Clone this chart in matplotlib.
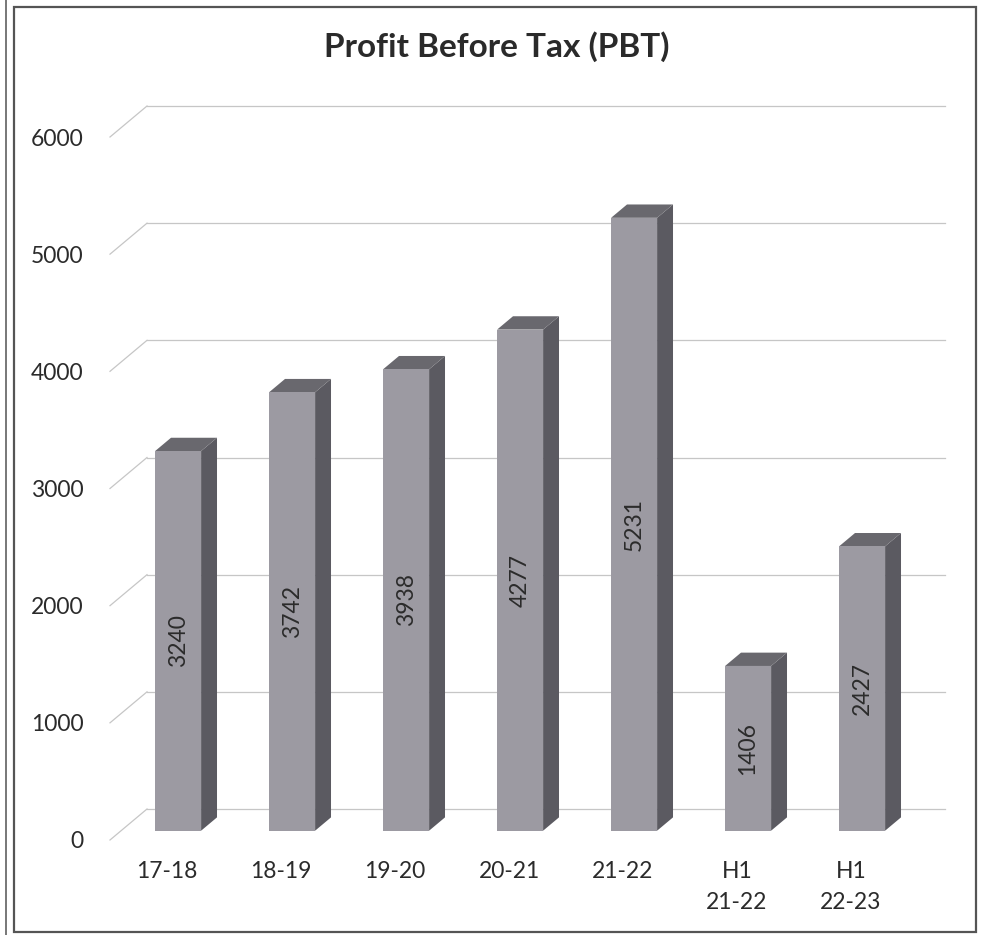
import matplotlib
matplotlib.use("Agg")
import matplotlib.pyplot as plt
from matplotlib.patches import Polygon, Rectangle
from matplotlib.lines import Line2D

plt.rcParams['font.family'] = ['Lato', 'DejaVu Sans']

categories = ["17-18", "18-19", "19-20", "20-21", "21-22", "H1\n21-22", "H1\n22-23"]
pbt_values = [3240, 3742, 3938, 4277, 5231, 1406, 2427]
y_ticks = [0, 1000, 2000, 3000, 4000, 5000, 6000]
title = "Profit Before Tax (PBT)"

W, H = 982, 935
fig = plt.figure(figsize=(W / 100, H / 100), dpi=100)
fig.patch.set_facecolor("white")

# front plane of the 3-D box, in pixels
left_px, right_px = 110, 908
bottom_px, top_px = 840, 137
ax = fig.add_axes([left_px / W, (H - bottom_px) / H,
                   (right_px - left_px) / W, (bottom_px - top_px) / H])
n = len(categories)
ax.set_xlim(-0.5, n - 0.5)
ax.set_ylim(0, 6000)
ax.set_facecolor("none")
for s in ax.spines.values():
    s.set_visible(False)

px_x = (right_px - left_px) / n          # pixels per category unit
px_y = (bottom_px - top_px) / 6000.0     # pixels per value unit
def dx(px):
    return px / px_x
def dy(px):
    return px / px_y

# full depth of the box (oblique projection)
DX, DY = dx(37), dy(31)

grid_c = "#c6c6c6"
for v in y_ticks:
    ax.add_line(Line2D([-0.5, -0.5 + DX], [v, v + DY], color=grid_c, lw=0.9, clip_on=False))
    ax.add_line(Line2D([-0.5 + DX, n - 0.5 + DX], [v + DY, v + DY], color=grid_c, lw=0.9,
                       clip_on=False, zorder=0.5))

# bars
f = 0.30          # depth of the front face
t = 0.43          # depth thickness of the bars
bw = dx(46)
front_c, side_c, top_c = "#9c9aa2", "#5b5a61", "#69686e"
xs = list(range(n))
x_front = [x + f * DX for x in xs]
b0 = f * DY
bars = ax.bar(x_front, pbt_values, width=bw, bottom=b0, color=front_c,
              edgecolor="none", zorder=3, clip_on=False)
for xf, v in zip(x_front, pbt_values):
    xl, xr = xf - bw / 2, xf + bw / 2
    top = b0 + v
    ax.add_patch(Polygon([(xr, b0), (xr + t * DX, b0 + t * DY), (xr + t * DX, top + t * DY), (xr, top)],
                         closed=True, facecolor=side_c, edgecolor="none", zorder=2.9, clip_on=False))
    ax.add_patch(Polygon([(xl, top), (xr, top), (xr + t * DX, top + t * DY), (xl + t * DX, top + t * DY)],
                         closed=True, facecolor=top_c, edgecolor="none", zorder=2.9, clip_on=False))
    ax.text(xf, b0 + v / 2, f"{v}", rotation=90, ha="center", va="center",
            fontsize=16.5, color="#2b2b2b", zorder=4)

ax.set_yticks(y_ticks)
ax.set_yticklabels([str(v) for v in y_ticks], fontsize=16.5, color="#2b2b2b")
ax.set_xticks(xs)
ax.set_xticklabels(categories, fontsize=16.5, color="#2b2b2b", linespacing=1.6)
ax.tick_params(axis="y", length=0, pad=19)
ax.tick_params(axis="x", length=0, pad=15)

fig.text(497 / W, 1 - 47 / H, title, ha="center", va="center", fontsize=24,
         fontweight="bold", color="#2a2a2a")

# frame
fig.add_artist(Rectangle((14 / W, 1 - 932 / H), (976 - 14) / W, (932 - 7) / H,
                         transform=fig.transFigure, fill=False, edgecolor="#555555", lw=1.6))
fig.add_artist(Line2D([6 / W, 6 / W], [0, 1], transform=fig.transFigure, color="#777777", lw=1.4))

fig.savefig("out.png", dpi=100)
